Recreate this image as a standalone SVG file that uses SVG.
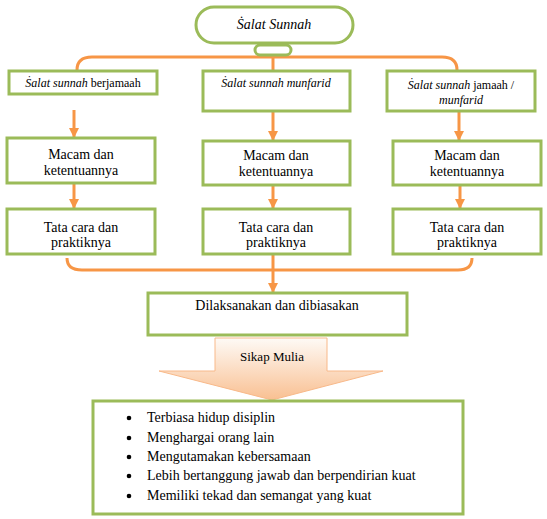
<svg xmlns="http://www.w3.org/2000/svg" width="547" height="519" viewBox="0 0 547 519">
<defs>
<style>
.box{fill:#fff;stroke:#9bbb59;stroke-width:3}
.con{fill:none;stroke:#f79646;stroke-width:3}
.t{font-family:"Liberation Serif","DejaVu Serif",serif;font-size:14px;fill:#000;text-anchor:middle}
.s{font-size:12px}
.i{font-style:italic}
.l{text-anchor:start}
</style>
<marker id="ah" viewBox="0 0 10 10" refX="9" refY="5" markerWidth="3.4" markerHeight="3.4" orient="auto" markerUnits="strokeWidth">
<path d="M0,0 L10,5 L0,10 Z" fill="#f79646"/>
</marker>
<linearGradient id="g" x1="0" y1="0" x2="0" y2="1">
<stop offset="0" stop-color="#fefaf6"/>
<stop offset="1" stop-color="#f9c092"/>
</linearGradient>
</defs>
<rect width="547" height="519" fill="#fff"/>
<g id="connectors">
<path class="con" d="M77,70 Q77,57 92,57 L442,57 Q457,57 457,70"/>
<line class="con" x1="273" y1="55" x2="273" y2="71"/>
<line class="con" x1="74" y1="110" x2="74" y2="137" marker-end="url(#ah)"/>
<line class="con" x1="273" y1="111" x2="273" y2="140" marker-end="url(#ah)"/>
<line class="con" x1="459" y1="111" x2="459" y2="140" marker-end="url(#ah)"/>
<line class="con" x1="74" y1="183" x2="74" y2="208" marker-end="url(#ah)"/>
<line class="con" x1="273" y1="185" x2="273" y2="208" marker-end="url(#ah)"/>
<line class="con" x1="460" y1="185" x2="460" y2="208" marker-end="url(#ah)"/>
<path class="con" d="M67,258 Q67,270 82,270 L458,270 Q472,270 472,258"/>
<line class="con" x1="273" y1="254" x2="273" y2="292" marker-end="url(#ah)"/>
</g>
<g id="root">
<rect class="box" x="196" y="7" width="157" height="36" rx="18"/>
<text class="t i" x="274" y="29">Ṡalat Sunnah</text>
</g>
<g id="hub">
<rect class="box" x="255" y="45" width="36" height="10" rx="5"/>
</g>
<g id="type1">
<rect class="box" x="9" y="71" width="148" height="23"/>
<text class="t s" x="83" y="87"><tspan class="i">Ṡalat sunnah</tspan> berjamaah</text>
</g>
<g id="type2">
<rect class="box" x="203" y="71" width="147" height="40"/>
<text class="t s i" x="276" y="87">Ṡalat sunnah munfarid</text>
</g>
<g id="type3">
<rect class="box" x="387" y="71" width="148" height="40"/>
<text class="t s" x="461" y="89"><tspan class="i">Ṡalat sunnah</tspan> jamaah /</text>
<text class="t s i" x="461" y="104">munfarid</text>
</g>
<g id="macam1">
<rect class="box" x="7" y="138" width="148" height="45"/>
<text class="t" x="81" y="159">Macam dan</text>
<text class="t" x="81" y="175">ketentuannya</text>
</g>
<g id="macam2">
<rect class="box" x="203" y="141" width="147" height="44"/>
<text class="t" x="276" y="160">Macam dan</text>
<text class="t" x="276" y="176">ketentuannya</text>
</g>
<g id="macam3">
<rect class="box" x="393" y="141" width="148" height="44"/>
<text class="t" x="467" y="160">Macam dan</text>
<text class="t" x="467" y="176">ketentuannya</text>
</g>
<g id="tata1">
<rect class="box" x="7" y="209" width="148" height="45"/>
<text class="t" x="81" y="232">Tata cara dan</text>
<text class="t" x="81" y="247">praktiknya</text>
</g>
<g id="tata2">
<rect class="box" x="203" y="209" width="147" height="45"/>
<text class="t" x="276" y="232">Tata cara dan</text>
<text class="t" x="276" y="247">praktiknya</text>
</g>
<g id="tata3">
<rect class="box" x="393" y="209" width="148" height="45"/>
<text class="t" x="467" y="232">Tata cara dan</text>
<text class="t" x="467" y="247">praktiknya</text>
</g>
<g id="dilaksanakan">
<rect class="box" x="148" y="293" width="259" height="42"/>
<text class="t" x="277" y="310">Dilaksanakan dan dibiasakan</text>
</g>
<g id="sikap">
<path d="M215,338 L327,338 L327,371 L383,371 L272,400 L159,371 L215,371 Z" fill="url(#g)" stroke="#f8b98a" stroke-width="1"/>
<text class="t" x="272" y="361" style="font-size:13px">Sikap Mulia</text>
</g>
<g id="list">
<rect class="box" x="93" y="401" width="370" height="113"/>
<g fill="#000">
<circle cx="129" cy="418" r="2.3"/>
<circle cx="129" cy="438" r="2.3"/>
<circle cx="129" cy="457" r="2.3"/>
<circle cx="129" cy="476" r="2.3"/>
<circle cx="129" cy="496" r="2.3"/>
</g>
<text class="t l" x="147" y="422">Terbiasa hidup disiplin</text>
<text class="t l" x="147" y="442">Menghargai orang lain</text>
<text class="t l" x="147" y="461">Mengutamakan kebersamaan</text>
<text class="t l" x="147" y="480">Lebih bertanggung jawab dan berpendirian kuat</text>
<text class="t l" x="147" y="500">Memiliki tekad dan semangat yang kuat</text>
</g>
</svg>
